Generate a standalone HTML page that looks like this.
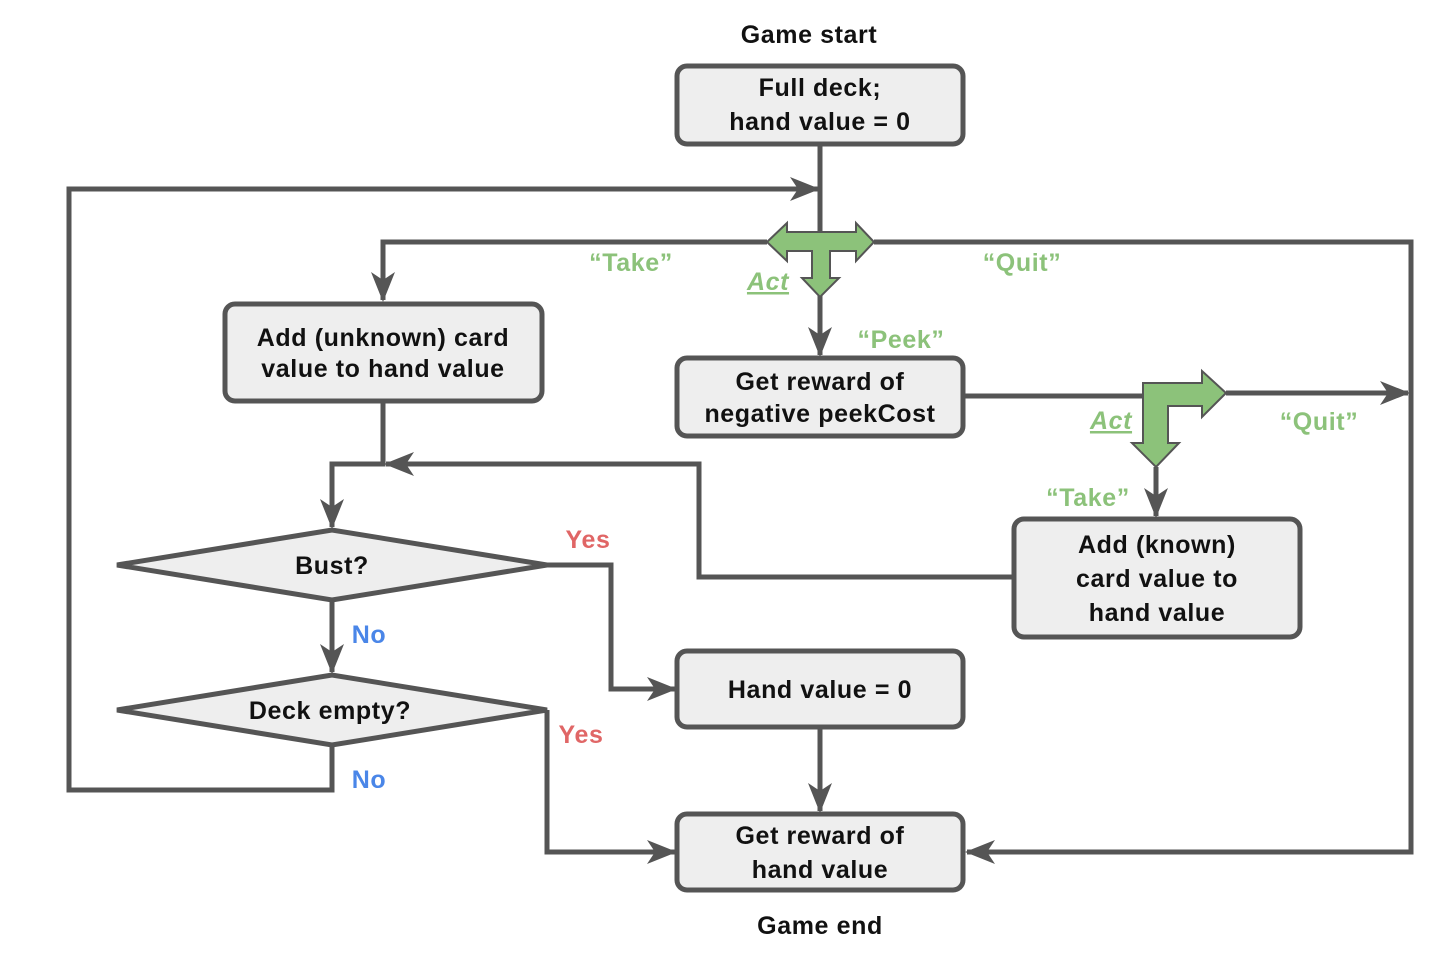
<!DOCTYPE html>
<html><head><meta charset="utf-8"><style>
html,body{margin:0;padding:0;background:#fff}
svg{display:block}
text{font-family:"Liberation Sans","DejaVu Sans",sans-serif;font-weight:bold;font-size:25px;letter-spacing:0.6px;fill:#111;text-anchor:middle}
.g{fill:#8cc27a}.r{fill:#e06666}.b{fill:#4a86e8}
</style></head><body>
<svg width="1452" height="956" viewBox="0 0 1452 956" xmlns="http://www.w3.org/2000/svg">
<defs>
<marker id="a" viewBox="0 0 30 24" refX="28" refY="12" markerWidth="30" markerHeight="24" markerUnits="userSpaceOnUse" orient="auto">
<path d="M0,0 L30,12 L0,24 L8,12 z" fill="#555"/>
</marker>
</defs>
<g fill="none" stroke="#555" stroke-width="5">
<path d="M820,144 V297"/>
<path d="M332,745 V790 H69 V189 H818" marker-end="url(#a)"/>
<path d="M767,242 H383 V300" marker-end="url(#a)"/>
<path d="M874,242 H1411 V852 H967" marker-end="url(#a)"/>
<path d="M820,297 V355" marker-end="url(#a)"/>
<path d="M963,396 H1143"/>
<path d="M1226,393 H1408" marker-end="url(#a)"/>
<path d="M1156,467 V516" marker-end="url(#a)"/>
<path d="M1014,577 H699 V464 H386" marker-end="url(#a)"/>
<path d="M383,401 V464 H332 V527" marker-end="url(#a)"/>
<path d="M547,565 H611 V689 H675" marker-end="url(#a)"/>
<path d="M332,600 V672" marker-end="url(#a)"/>
<path d="M547,710 V852 H675" marker-end="url(#a)"/>
<path d="M820,727 V811" marker-end="url(#a)"/>
</g>
<g fill="#eeeeee" stroke="#555" stroke-width="5">
<rect x="677" y="66" width="286" height="78" rx="10"/>
<rect x="225" y="304" width="317" height="97" rx="10"/>
<rect x="677" y="358" width="286" height="78" rx="10"/>
<rect x="1014" y="519" width="286" height="118" rx="10"/>
<rect x="677" y="651" width="286" height="76" rx="10"/>
<rect x="677" y="814" width="286" height="76" rx="10"/>
<path d="M117,565 L332,530 L547,565 L332,600 z"/>
<path d="M117,710 L332,675 L547,710 L332,745 z"/>
</g>
<g fill="#8cc27a" stroke="#555" stroke-width="2">
<path d="M767,242 L787,223 V232 H856 V223 L874,242 L856,261 V251 H830 V278 H839 L820,297 L802,278 H812 V251 H787 V261 z"/>
<path d="M1143,383 H1202 V371 L1226,393 L1202,417 V406 H1168 V443 H1179 L1156,467 L1132,443 H1143 z"/>
</g>
<text x="809" y="43">Game start</text>
<text x="820" y="96">Full deck;</text>
<text x="820" y="130">hand value = 0</text>
<text x="383" y="346">Add (unknown) card</text>
<text x="383" y="377">value to hand value</text>
<text x="820" y="390">Get reward of</text>
<text x="820" y="422">negative peekCost</text>
<text x="1157" y="553">Add (known)</text>
<text x="1157" y="587">card value to</text>
<text x="1157" y="621">hand value</text>
<text x="820" y="698">Hand value = 0</text>
<text x="820" y="844">Get reward of</text>
<text x="820" y="878">hand value</text>
<text x="820" y="934">Game end</text>
<text x="332" y="574">Bust?</text>
<text x="330" y="719">Deck empty?</text>
<text class="g" x="631" y="271">“Take”</text>
<text class="g" x="1022" y="271">“Quit”</text>
<text class="g" x="901" y="348">“Peek”</text>
<text class="g" x="1319" y="430">“Quit”</text>
<text class="g" x="1088" y="506">“Take”</text>
<text class="g" x="768" y="290" font-style="italic" text-decoration="underline">Act</text>
<text class="g" x="1111" y="429" font-style="italic" text-decoration="underline">Act</text>
<text class="r" x="588" y="548">Yes</text>
<text class="r" x="581" y="743">Yes</text>
<text class="b" x="369" y="643">No</text>
<text class="b" x="369" y="788">No</text>
</svg>
</body></html>
